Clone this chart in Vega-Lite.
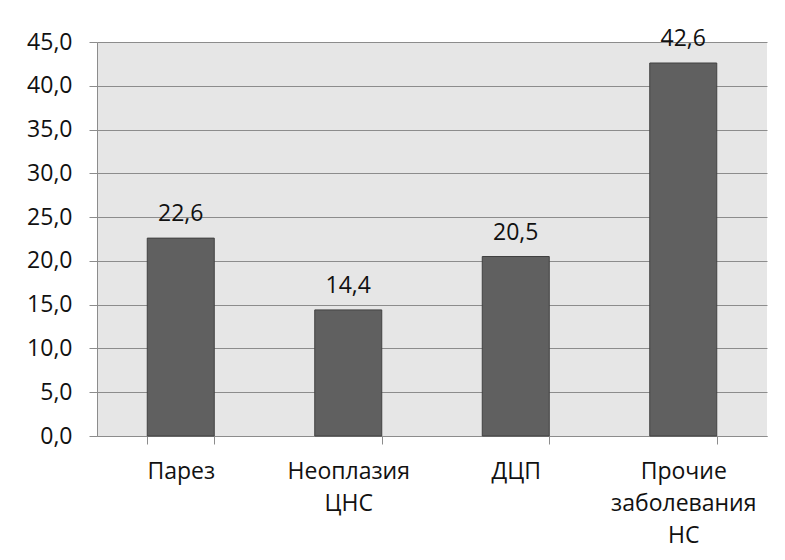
{
  "$schema": "https://vega.github.io/schema/vega-lite/v6.json",
  "width": 670,
  "height": 394,
  "autosize": {"type": "none"},
  "padding": {"left": 97, "top": 42, "right": 18, "bottom": 124},
  "background": "white",
  "config": {
    "locale": {
      "number": {"decimal": ",", "thousands": " ", "grouping": [3], "currency": ["", ""]}
    },
    "view": {"fill": "#e6e6e6", "stroke": null},
    "font": "Open Sans",
    "axis": {
      "labelFont": "Open Sans",
      "labelFontSize": 23,
      "labelColor": "#111111",
      "domainColor": "#8c8c8c",
      "tickColor": "#8c8c8c",
      "gridColor": "#8c8c8c",
      "tickSize": 8,
      "domainWidth": 1,
      "tickWidth": 1,
      "gridWidth": 1
    }
  },
  "data": {
    "values": [
      {"cat": "Парез", "value": 22.6},
      {"cat": "Неоплазия ЦНС", "value": 14.4},
      {"cat": "ДЦП", "value": 20.5},
      {"cat": "Прочие заболевания НС", "value": 42.6}
    ]
  },
  "encoding": {
    "x": {
      "field": "cat",
      "type": "nominal",
      "sort": null,
      "scale": {"paddingInner": 0.6, "paddingOuter": 0.3},
      "axis": {
        "title": null,
        "labelAngle": 0,
        "labelPadding": 16,
        "labelLineHeight": 32,
        "labelExpr": "split(datum.label, ' ')",
        "tickBand": "extent",
        "grid": false
      }
    },
    "y": {
      "field": "value",
      "type": "quantitative",
      "scale": {"domain": [0, 45], "nice": false},
      "axis": {
        "title": null,
        "values": [0, 5, 10, 15, 20, 25, 30, 35, 40, 45],
        "format": ".1f",
        "labelPadding": 17,
        "grid": true,
        "domain": true
      }
    }
  },
  "layer": [
    {
      "mark": {"type": "bar", "color": "#606060", "stroke": "#404040", "strokeWidth": 1}
    },
    {
      "mark": {"type": "text", "baseline": "alphabetic", "dy": -17, "fontSize": 23, "color": "#111111", "font": "Open Sans"},
      "encoding": {
        "text": {"field": "value", "type": "quantitative", "format": ".1f"}
      }
    }
  ]
}
